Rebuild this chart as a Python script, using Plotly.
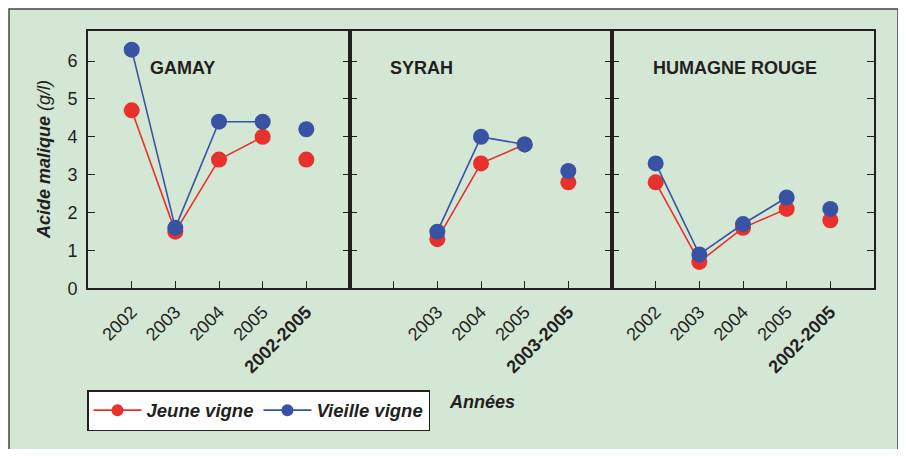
import plotly.graph_objects as go
from plotly.subplots import make_subplots

# acide malique (g/l)
slots = ["2002", "2003", "2004", "2005"]

gamay_years = ["2002", "2003", "2004", "2005"]
gamay_jeune = [4.7, 1.5, 3.4, 4.0]
gamay_vieille = [6.3, 1.6, 4.4, 4.4]
gamay_period = "2002-2005"
gamay_jeune_moy = 3.4
gamay_vieille_moy = 4.2

syrah_years = ["2003", "2004", "2005"]
syrah_jeune = [1.3, 3.3, 3.8]
syrah_vieille = [1.5, 4.0, 3.8]
syrah_period = "2003-2005"
syrah_jeune_moy = 2.8
syrah_vieille_moy = 3.1

humagne_years = ["2002", "2003", "2004", "2005"]
humagne_jeune = [2.8, 0.7, 1.6, 2.1]
humagne_vieille = [3.3, 0.9, 1.7, 2.4]
humagne_period = "2002-2005"
humagne_jeune_moy = 1.8
humagne_vieille_moy = 2.1

panels = [
    ("GAMAY", gamay_years, gamay_jeune, gamay_vieille, gamay_period, gamay_jeune_moy, gamay_vieille_moy),
    ("SYRAH", syrah_years, syrah_jeune, syrah_vieille, syrah_period, syrah_jeune_moy, syrah_vieille_moy),
    ("HUMAGNE ROUGE", humagne_years, humagne_jeune, humagne_vieille, humagne_period, humagne_jeune_moy, humagne_vieille_moy),
]

RED = "#e8312c"
BLUE = "#3953a4"
INK = "#231f20"
GREEN = "#d3e7d4"
FONT = "Liberation Sans"

# page has an 8px body margin: figure sits at (8, 8)
OFF = 8
W, H = 890, 441


def fx(px):
    return (px - OFF) / W


def fy(py):
    return 1 - (py - OFF) / H


fig = make_subplots(rows=1, cols=3, horizontal_spacing=0)

px_x = [88, 350, 612, 874]
y_dom = [fy(295), fy(32)]
title_left = [148, 388, 651]

for i, (name, years, jeune, vieille, period, j_moy, v_moy) in enumerate(panels):
    col = i + 1
    order = slots + [period]
    xs = [order.index(y) for y in years]
    xp = order.index(period)

    # years: line + markers
    fig.add_trace(go.Scatter(x=xs, y=jeune, mode="lines+markers", showlegend=False,
                             line=dict(color=RED, width=1.6),
                             marker=dict(color=RED, size=16)), row=1, col=col)
    fig.add_trace(go.Scatter(x=xs, y=vieille, mode="lines+markers", showlegend=False,
                             line=dict(color=BLUE, width=1.6),
                             marker=dict(color=BLUE, size=16)), row=1, col=col)
    # period mean: markers only
    fig.add_trace(go.Scatter(x=[xp], y=[j_moy], mode="markers", showlegend=False,
                             marker=dict(color=RED, size=16)), row=1, col=col)
    fig.add_trace(go.Scatter(x=[xp], y=[v_moy], mode="markers", showlegend=False,
                             marker=dict(color=BLUE, size=16)), row=1, col=col)

    ticktext = [s if s in years else "" for s in slots] + ["<b>" + period + "</b>"]
    fig.update_xaxes(domain=[fx(px_x[i]), fx(px_x[i + 1])], range=[-1, 5],
                     tickmode="array", tickvals=list(range(len(order))), ticktext=ticktext,
                     tickangle=-45, ticks="inside", ticklen=7, tickcolor=INK,
                     showline=True, linecolor=INK, linewidth=2, mirror=True,
                     showgrid=False, zeroline=False, ticklabelstandoff=4,
                     tickfont=dict(family=FONT, size=18, color=INK),
                     row=1, col=col)
    fig.update_yaxes(domain=y_dom, range=[0, 6.78], dtick=1, tick0=0,
                     ticks="inside", ticklen=7, tickcolor=INK,
                     showline=True, linecolor=INK, linewidth=2, mirror="ticks",
                     showgrid=False, zeroline=False, showticklabels=(i == 0),
                     ticklabelstandoff=5,
                     tickfont=dict(family=FONT, size=18, color=INK),
                     row=1, col=col)

    fig.add_annotation(text="<b>" + name + "</b>", xref="paper", yref="paper",
                       x=fx(title_left[i]), y=fy(69), xanchor="left", yanchor="middle",
                       showarrow=False, font=dict(family=FONT, size=18, color=INK))

# legend-only traces
fig.add_trace(go.Scatter(x=[None], y=[None], mode="lines+markers", name="<b><i>Jeune vigne</i></b>",
                         line=dict(color=RED, width=1.6), marker=dict(color=RED, size=12)))
fig.add_trace(go.Scatter(x=[None], y=[None], mode="lines+markers", name="<b><i>Vieille vigne</i></b>",
                         line=dict(color=BLUE, width=1.6), marker=dict(color=BLUE, size=12)))

fig.add_annotation(text="<b><i>Acide malique</i></b> <i>(g/l)</i>", xref="paper", yref="paper",
                   x=fx(44), y=(y_dom[0] + y_dom[1]) / 2, textangle=-90,
                   xanchor="center", yanchor="middle",
                   showarrow=False, font=dict(family=FONT, size=18, color=INK))
fig.add_annotation(text="<b><i>Années</i></b>", xref="paper", yref="paper",
                   x=fx(447), y=fy(411), xanchor="left", yanchor="middle",
                   showarrow=False, font=dict(family=FONT, size=18, color=INK))

# green frame
fig.add_shape(type="rect", xref="paper", yref="paper", layer="below",
              x0=fx(9), x1=fx(898), y0=-0.2, y1=fy(9),
              fillcolor=GREEN, line=dict(color="#444444", width=1.5))

fig.update_layout(
    width=W, height=H,
    margin=dict(l=0, r=0, t=0, b=0),
    paper_bgcolor="white", plot_bgcolor="white",
    font=dict(family=FONT, color=INK),
    legend=dict(orientation="h", x=fx(87), y=fy(399), xanchor="left", yanchor="top",
                bgcolor="white", bordercolor=INK, borderwidth=1.5,
                font=dict(family=FONT, size=18.5, color=INK), itemwidth=48),
)

fig.write_html("out.html")
